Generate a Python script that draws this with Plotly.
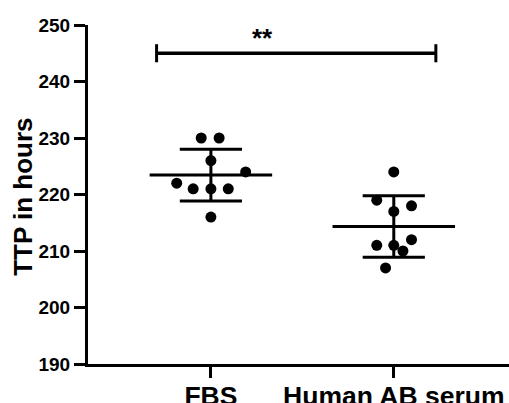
import numpy as np
import plotly.graph_objects as go

categories = ["FBS", "Human AB serum"]
fbs_values = [230, 230, 226, 224, 222, 221, 221, 221, 216]
fbs_jitter = [-0.053, 0.045, 0.0, 0.19, -0.187, -0.097, 0.0, 0.095, 0.0]
hab_values = [224, 219, 218, 217, 211, 211, 212, 210, 207]
hab_jitter = [0.0, -0.093, 0.097, 0.0, -0.093, 0.0, 0.097, 0.05, -0.045]
y_ticks = [190, 200, 210, 220, 230, 240, 250]
sig_label = "**"
sig_level = 245

FONT = "Liberation Sans, Arial, sans-serif"
BLACK = "#000000"
LW = 3

fig = go.Figure()

groups = [(1, fbs_values, fbs_jitter), (2, hab_values, hab_jitter)]

for pos, vals, jit in groups:
    m = float(np.mean(vals))
    sd = float(np.std(vals, ddof=1))
    fig.add_trace(go.Scatter(x=[pos - 0.335, pos + 0.335], y=[m, m], mode="lines",
                             line=dict(color=BLACK, width=LW), hoverinfo="skip", showlegend=False))
    fig.add_trace(go.Scatter(x=[pos, pos], y=[m - sd, m + sd], mode="lines",
                             line=dict(color=BLACK, width=LW), hoverinfo="skip", showlegend=False))
    for yv in (m - sd, m + sd):
        fig.add_trace(go.Scatter(x=[pos - 0.17, pos + 0.17], y=[yv, yv], mode="lines",
                                 line=dict(color=BLACK, width=LW), hoverinfo="skip", showlegend=False))

for pos, vals, jit in groups:
    fig.add_trace(go.Scatter(x=[pos + j for j in jit], y=vals, mode="markers",
                             marker=dict(color=BLACK, size=11, line=dict(width=0)),
                             showlegend=False))

x0, x1 = 0.703, 2.23
fig.add_trace(go.Scatter(x=[x0, x1], y=[sig_level, sig_level], mode="lines",
                         line=dict(color=BLACK, width=3.5), hoverinfo="skip", showlegend=False))
for xv in (x0, x1):
    fig.add_trace(go.Scatter(x=[xv, xv], y=[sig_level - 1.6, sig_level + 1.6], mode="lines",
                             line=dict(color=BLACK, width=3), hoverinfo="skip", showlegend=False))
fig.add_annotation(x=1.28, y=sig_level - 0.3, text="<b>" + sig_label + "</b>", showarrow=False,
                   yanchor="bottom", font=dict(family=FONT, size=26, color=BLACK))

fig.add_annotation(xref="paper", yref="paper", x=-0.156, y=0.494, xanchor="center", yanchor="middle",
                   text="<b>TTP in hours</b>", textangle=-90, showarrow=False,
                   font=dict(family=FONT, size=26, color=BLACK))

fig.update_layout(
    width=509, height=403,
    margin=dict(l=88, r=0, t=25, b=39),
    plot_bgcolor="white", paper_bgcolor="white",
    xaxis=dict(range=[0.328, 2.63], tickvals=[1, 2], ticktext=["<b>%s</b>" % c for c in categories],
               automargin=False, ticklabelstandoff=-5,
               showgrid=False, zeroline=False, showline=True, linecolor=BLACK, linewidth=LW,
               ticks="outside", ticklen=11, tickwidth=LW, tickcolor=BLACK,
               tickfont=dict(family=FONT, size=26.5, color=BLACK)),
    yaxis=dict(range=[190, 250], tickvals=y_ticks, ticktext=["<b>%d</b>" % t for t in y_ticks],
               automargin=False,
               showgrid=False, zeroline=False, showline=True, linecolor=BLACK, linewidth=LW,
               ticks="outside", ticklen=11, tickwidth=LW, tickcolor=BLACK,
               tickfont=dict(family=FONT, size=19, color=BLACK)),
)

fig.write_html("out.html", config={"displayModeBar": False},
               post_script="document.body.style.margin='0';document.body.style.overflow='hidden';")
